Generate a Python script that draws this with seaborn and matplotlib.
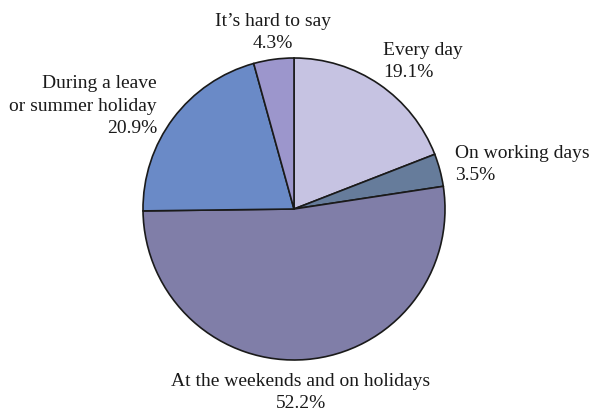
import matplotlib
matplotlib.use("Agg")
import matplotlib.pyplot as plt
import seaborn as sns

# clockwise from 12 o'clock
labels = ["Every day", "On working days", "At the weekends and on holidays",
          "During a leave\nor summer holiday", "It\u2019s hard to say"]
shares = [19.1, 3.5, 52.2, 20.9, 4.3]
colors = ["#c6c3e2", "#667c9b", "#807ea8", "#6a8ac7", "#9c96cc"]

sns.set_theme(style="white")
plt.rcParams['font.family'] = ['Liberation Serif', 'DejaVu Serif']

W, H = 591, 411
cx, cy, r = 294, 209, 151  # pie centre / radius in pixels

fig = plt.figure(figsize=(W / 100, H / 100), dpi=100)
ax = fig.add_axes([(cx - r) / W, (H - cy - r) / H, 2 * r / W, 2 * r / H])
ax.pie(shares, colors=sns.color_palette(colors), startangle=90, counterclock=False,
       wedgeprops=dict(edgecolor="#1a1a1a", linewidth=1.2))
ax.set_xlim(-1, 1)
ax.set_ylim(-1, 1)
ax.set_axis_off()


def label(px, py, text, ha):
    # px, py = anchor in image pixels (py = baseline of the last line)
    ax.text((px - cx) / r, (cy - py) / r, text, ha=ha, va="baseline",
            fontsize=14, color="#1a1a1a", linespacing=1.42, clip_on=False,
            multialignment=ha)


fmt = lambda i: f"{labels[i]}\n{shares[i]}%"
label(273, 48, fmt(4), "center")
label(383, 77, fmt(0), "left")
label(455, 180, fmt(1), "left")
label(157, 133, fmt(3), "right")
label(301, 408, fmt(2), "center")

fig.savefig("out.png", dpi=100)
